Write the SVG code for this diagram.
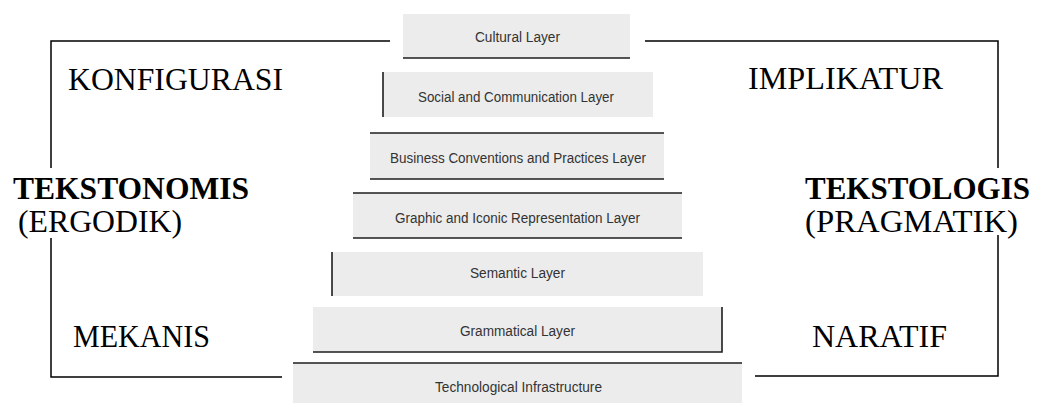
<svg xmlns="http://www.w3.org/2000/svg" width="1037" height="403" viewBox="0 0 1037 403">
<style>
.box{fill:#ececec;stroke:none}
.edge{stroke:#1e1e1e;stroke-width:1.6;fill:none}
.lbl{font-family:"Liberation Sans",Arial,sans-serif;font-size:14px;fill:#333;text-anchor:middle}
.big{font-family:"Liberation Serif","Times New Roman",serif;font-size:31px;fill:#000}
.bold{font-weight:bold}
.br{stroke:#000;stroke-width:1.5;fill:none}
</style>
<rect width="1037" height="403" fill="#fff"/>
<g id="connectors">
<polyline class="br" points="390,41 51,41 51,168"/>
<polyline class="br" points="51,238 51,377 282,377"/>
<polyline class="br" points="645,41 998,41 998,168"/>
<polyline class="br" points="998,235 998,376 755,376"/>
</g>
<g id="cultural">
<rect class="box" x="403" y="14" width="227" height="44"/>
<line class="edge" x1="403" y1="58" x2="630" y2="58"/>
<text class="lbl" x="517.5" y="42" textLength="85" lengthAdjust="spacingAndGlyphs">Cultural Layer</text>
</g>
<g id="social">
<rect class="box" x="383" y="72" width="270" height="45"/>
<line class="edge" x1="383" y1="72" x2="383" y2="117"/>
<text class="lbl" x="516" y="102" textLength="196" lengthAdjust="spacingAndGlyphs">Social and Communication Layer</text>
</g>
<g id="business">
<rect class="box" x="370" y="133" width="294" height="46"/>
<line class="edge" x1="370" y1="133" x2="664" y2="133"/>
<line class="edge" x1="370" y1="179" x2="664" y2="179"/>
<text class="lbl" x="518" y="163" textLength="256" lengthAdjust="spacingAndGlyphs">Business Conventions and Practices Layer</text>
</g>
<g id="graphic">
<rect class="box" x="353" y="193" width="329" height="45"/>
<line class="edge" x1="353" y1="193" x2="682" y2="193"/>
<line class="edge" x1="353" y1="238" x2="682" y2="238"/>
<text class="lbl" x="517.5" y="223" textLength="245" lengthAdjust="spacingAndGlyphs">Graphic and Iconic Representation Layer</text>
</g>
<g id="semantic">
<rect class="box" x="332" y="252" width="371" height="44"/>
<line class="edge" x1="332" y1="252" x2="332" y2="296"/>
<text class="lbl" x="517.5" y="278" textLength="95" lengthAdjust="spacingAndGlyphs">Semantic Layer</text>
</g>
<g id="grammatical">
<rect class="box" x="313" y="307" width="409" height="45"/>
<polyline class="edge" points="722,307 722,352 313,352"/>
<text class="lbl" x="517.5" y="336" textLength="115" lengthAdjust="spacingAndGlyphs">Grammatical Layer</text>
</g>
<g id="technological">
<rect class="box" x="293" y="363" width="449" height="40"/>
<line class="edge" x1="293" y1="363" x2="742" y2="363"/>
<text class="lbl" x="518.5" y="392" textLength="167" lengthAdjust="spacingAndGlyphs">Technological Infrastructure</text>
</g>
<g id="left-labels">
<text class="big" x="68" y="90" textLength="215" lengthAdjust="spacingAndGlyphs">KONFIGURASI</text>
<text class="big bold" x="13" y="199" textLength="236" lengthAdjust="spacingAndGlyphs">TEKSTONOMIS</text>
<text class="big" x="18" y="232" textLength="164" lengthAdjust="spacingAndGlyphs">(ERGODIK)</text>
<text class="big" x="73" y="347" textLength="137" lengthAdjust="spacingAndGlyphs">MEKANIS</text>
</g>
<g id="right-labels">
<text class="big" x="748" y="89" textLength="195" lengthAdjust="spacingAndGlyphs">IMPLIKATUR</text>
<text class="big bold" x="805" y="199" textLength="225" lengthAdjust="spacingAndGlyphs">TEKSTOLOGIS</text>
<text class="big" x="805" y="232" textLength="213" lengthAdjust="spacingAndGlyphs">(PRAGMATIK)</text>
<text class="big" x="812" y="347" textLength="135" lengthAdjust="spacingAndGlyphs">NARATIF</text>
</g>
</svg>
